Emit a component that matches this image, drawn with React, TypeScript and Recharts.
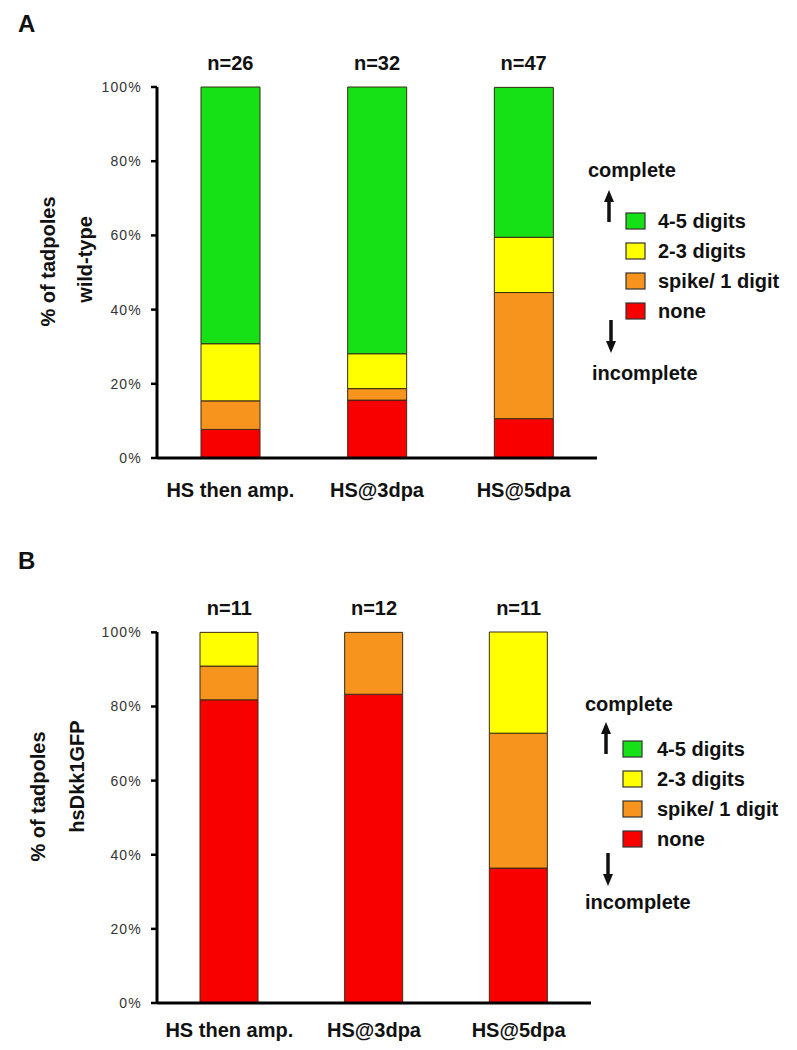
import { BarChart, Bar, XAxis, YAxis, Legend, Label } from 'recharts';

const FONT = '"Liberation Sans", Arial, sans-serif';

const categories = ['HS then amp.', 'HS@3dpa', 'HS@5dpa'];
const yTicks = [0, 20, 40, 60, 80, 100];

// A: wild-type (percent of tadpoles)
const wtN = ['n=26', 'n=32', 'n=47'];
const wtNone = [7.7, 15.6, 10.6];
const wtSpike = [7.7, 3.1, 34.0];
const wtTwoThree = [15.4, 9.4, 14.9];
const wtFourFive = [69.2, 71.9, 40.4];

// B: hsDkk1GFP (percent of tadpoles)
const dkkN = ['n=11', 'n=12', 'n=11'];
const dkkNone = [81.8, 83.3, 36.4];
const dkkSpike = [9.1, 16.7, 36.4];
const dkkTwoThree = [9.1, 0, 27.3];
const dkkFourFive = [0, 0, 0];

const SERIES = [
  { key: 'none', name: 'none', color: '#f80000' },
  { key: 'spike', name: 'spike/ 1 digit', color: '#f7941d' },
  { key: 'twoThree', name: '2-3 digits', color: '#ffff00' },
  { key: 'fourFive', name: '4-5 digits', color: '#16e016' },
];
const LEGEND_ORDER = ['fourFive', 'twoThree', 'spike', 'none'];

function buildRows(n: string[], none: number[], spike: number[], twoThree: number[], fourFive: number[]) {
  return categories.map((cat, i) => ({
    cat,
    n: n[i],
    none: none[i],
    spike: spike[i],
    twoThree: twoThree[i],
    fourFive: fourFive[i],
  }));
}

const wtRows = buildRows(wtN, wtNone, wtSpike, wtTwoThree, wtFourFive);
const dkkRows = buildRows(dkkN, dkkNone, dkkSpike, dkkTwoThree, dkkFourFive);

const boldText = { fontFamily: FONT, fontWeight: 'bold', fontSize: 20, fill: '#111' };

function Arrow({ x, y1, y2, up }: { x: number; y1: number; y2: number; up: boolean }) {
  const tip = up ? y1 : y2;
  const base = up ? y1 + 12 : y2 - 12;
  return (
    <g>
      <line x1={x} x2={x} y1={up ? base : y1} y2={up ? y2 : base} stroke="#111" strokeWidth={3.5} />
      <polygon points={`${x - 5},${base} ${x + 5},${base} ${x},${tip}`} fill="#111" />
    </g>
  );
}

function LegendBox({ payload, cfg }: any) {
  const items = LEGEND_ORDER.map((k) => (payload || []).find((p: any) => p.dataKey === k)).filter(Boolean);
  return (
    <svg width={220} height={250} style={{ overflow: 'visible' }}>
      <text x={8} y={27} {...boldText}>complete</text>
      <Arrow x={29} y1={cfg.upTop} y2={cfg.upTop + 32} up />
      {items.map((p: any, i: number) => {
        const cy = cfg.itemsTop + i * 30;
        return (
          <g key={p.dataKey}>
            <rect x={46} y={cy - 8} width={19} height={16} fill={p.color} stroke="#333" strokeWidth={1.2} />
            <text x={cfg.textX} y={cy + 7} {...boldText}>{p.value}</text>
          </g>
        );
      })}
      <Arrow x={31} y1={cfg.downTop} y2={cfg.downTop + 33} up={false} />
      <text x={cfg.incX} y={cfg.incY + 7} {...boldText}>incomplete</text>
    </svg>
  );
}

function Panel({ rows, letter, letterTop, top, height, margin, barSize, titles, catMargin, legend }: any) {
  const plotTop = margin.top + 30;
  const plotBottom = height - margin.bottom - 30;
  const cy = (plotTop + plotBottom) / 2;
  return (
    <div style={{ position: 'absolute', left: 0, top, width: 797, height }}>
      <div
        style={{
          position: 'absolute',
          left: 18,
          top: letterTop,
          fontFamily: FONT,
          fontWeight: 'bold',
          fontSize: 24,
          lineHeight: '24px',
          color: '#111',
        }}
      >
        {letter}
      </div>
      <BarChart width={797} height={height} data={rows} margin={margin} barSize={barSize}>
        <XAxis
          xAxisId="n"
          orientation="top"
          dataKey="cat"
          height={30}
          axisLine={false}
          tickLine={false}
          tickSize={6}
          tickMargin={11}
          tick={boldText}
          tickFormatter={(c: string) => rows.find((r: any) => r.cat === c)?.n}
        />
        <XAxis
          dataKey="cat"
          height={30}
          stroke="#000"
          strokeWidth={3}
          axisLine={{ stroke: '#000', strokeWidth: 3 }}
          tickLine={false}
          tickSize={6}
          tickMargin={catMargin}
          tick={boldText}
        />
        <YAxis
          domain={[0, 100]}
          ticks={yTicks}
          width={60}
          stroke="#000"
          strokeWidth={3}
          tickSize={6}
          tickMargin={9}
          axisLine={{ stroke: '#000', strokeWidth: 3 }}
          tickLine={{ stroke: '#000', strokeWidth: 2.5 }}
          tickFormatter={(v: number) => `${v}%`}
          tick={{ fontFamily: FONT, fontSize: 14, fill: '#333', letterSpacing: 1.2 }}
        >
          <Label
            content={() => (
              <g>
                {titles.map((t: any) => (
                  <text
                    key={t.text}
                    x={t.x}
                    y={cy + t.dy}
                    transform={`rotate(-90, ${t.x}, ${cy + t.dy})`}
                    textAnchor="middle"
                    dominantBaseline="central"
                    {...boldText}
                  >
                    {t.text}
                  </text>
                ))}
              </g>
            )}
          />
        </YAxis>
        <Legend
          layout="vertical"
          align="center"
          verticalAlign="middle"
          width={220}
          height={250}
          wrapperStyle={{ left: legend.left, top: legend.top }}
          content={(props: any) => <LegendBox payload={props.payload} cfg={legend} />}
        />
        {SERIES.map((s) => (
          <Bar
            key={s.key}
            dataKey={s.key}
            name={s.name}
            stackId="a"
            fill={s.color}
            stroke="#3a2a14"
            strokeWidth={1}
            isAnimationActive={false}
          />
        ))}
      </BarChart>
    </div>
  );
}

export default function App() {
  return (
    <div style={{ position: 'absolute', left: 0, top: 0, width: 797, height: 1050, background: '#fff' }}>
      <Panel
        rows={wtRows}
        letter="A"
        letterTop={12}
        top={0}
        height={520}
        margin={{ top: 57, right: 200, bottom: 32, left: 97 }}
        barSize={59}
        catMargin={19}
        titles={[
          { text: '% of tadpoles', x: 48, dy: -11 },
          { text: 'wild-type', x: 85, dy: -13 },
        ]}
        legend={{ left: 580, top: 150, upTop: 40, itemsTop: 71, textX: 78, downTop: 170, incX: 12, incY: 223 }}
      />
      <Panel
        rows={dkkRows}
        letter="B"
        letterTop={4}
        top={545}
        height={505}
        margin={{ top: 57, right: 206, bottom: 17, left: 97 }}
        barSize={58}
        catMargin={14}
        titles={[
          { text: '% of tadpoles', x: 38, dy: -21 },
          { text: 'hsDkk1GFP', x: 77, dy: -41 },
        ]}
        legend={{ left: 577, top: 139, upTop: 38, itemsTop: 65, textX: 80, downTop: 169, incX: 8, incY: 218 }}
      />
    </div>
  );
}
